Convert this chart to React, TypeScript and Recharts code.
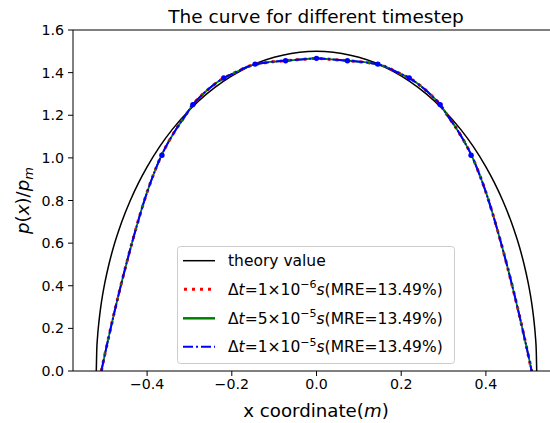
import { ComposedChart, Line, XAxis, YAxis, ReferenceLine } from "recharts";

// theory curve (semi-ellipse)
const theoryX = [
  -0.52, -0.519, -0.517, -0.514, -0.51, -0.505, -0.5, -0.49, -0.48, -0.46, -0.44, -0.42, -0.4, -0.37, -0.34,
  -0.3, -0.26, -0.22, -0.18, -0.14, -0.1, -0.06, -0.02, 0, 0.02, 0.06, 0.1, 0.14, 0.18, 0.22, 0.26, 0.3, 0.34,
  0.37, 0.4, 0.42, 0.44, 0.46, 0.48, 0.49, 0.5, 0.505, 0.51, 0.514, 0.517, 0.519, 0.52,
];
const theoryP = [
  0, 0.093, 0.161, 0.227, 0.293, 0.358, 0.412, 0.502, 0.577, 0.699, 0.799, 0.884, 0.958, 1.054, 1.135,
  1.225, 1.299, 1.359, 1.407, 1.445, 1.472, 1.49, 1.499, 1.5, 1.499, 1.49, 1.472, 1.445, 1.407, 1.359, 1.299, 1.225, 1.135,
  1.054, 0.958, 0.884, 0.799, 0.699, 0.577, 0.502, 0.412, 0.358, 0.293, 0.227, 0.161, 0.093, 0,
];

// numerical result (the three timesteps overlap)
const numX = [
  -0.508, -0.502, -0.495, -0.487, -0.478, -0.468, -0.457, -0.445, -0.432, -0.418, -0.404, -0.39, -0.378, -0.366,
  -0.348, -0.33, -0.31, -0.292, -0.273, -0.255, -0.237, -0.219, -0.2, -0.182, -0.163, -0.145, -0.127, -0.109,
  -0.091, -0.073, -0.055, -0.036, -0.018, 0, 0.018, 0.036, 0.055, 0.073, 0.091, 0.109, 0.127, 0.145, 0.163,
  0.182, 0.2, 0.219, 0.237, 0.255, 0.273, 0.292, 0.31, 0.33, 0.348, 0.366, 0.378, 0.39, 0.404, 0.418, 0.432,
  0.445, 0.457, 0.468, 0.478, 0.487, 0.495, 0.502, 0.508,
];
const numP = [
  0, 0.057, 0.121, 0.192, 0.27, 0.353, 0.441, 0.533, 0.628, 0.725, 0.815, 0.895, 0.957, 1.012,
  1.08, 1.139, 1.197, 1.25, 1.29, 1.323, 1.351, 1.375, 1.393, 1.41, 1.428, 1.438, 1.445, 1.45,
  1.453, 1.456, 1.459, 1.462, 1.465, 1.467, 1.465, 1.462, 1.459, 1.456, 1.453, 1.45, 1.445, 1.438, 1.428,
  1.41, 1.393, 1.375, 1.351, 1.323, 1.29, 1.25, 1.197, 1.139, 1.08, 1.012, 0.957, 0.895, 0.815, 0.725, 0.628,
  0.533, 0.441, 0.353, 0.27, 0.192, 0.121, 0.057, 0,
];

// blue markers
const markerX = [-0.365, -0.292, -0.219, -0.145, -0.073, 0, 0.073, 0.145, 0.219, 0.292, 0.365];
const markerP = [1.012, 1.25, 1.375, 1.44, 1.456, 1.467, 1.456, 1.44, 1.375, 1.25, 1.012];

const xTicks = [-0.4, -0.2, 0, 0.2, 0.4];
const yTicks = [0, 0.2, 0.4, 0.6, 0.8, 1.0, 1.2, 1.4, 1.6];

const theoryData = theoryX.map((x, i) => ({ x, p: theoryP[i] }));
const numData = numX.map((x, i) => ({ x, p: numP[i] }));
const markerData = markerX.map((x, i) => ({ x, p: markerP[i] }));

const FONT = "DejaVu Sans, sans-serif";
const fmt = (v: number) => (v < 0 ? "\u2212" + Math.abs(v).toFixed(1) : v.toFixed(1));

function LegendRow({ y, kind, exp, coef }: { y: number; kind: string; exp?: string; coef?: string }) {
  const line =
    kind === "theory" ? (
      <line x1={183} x2={215} y1={y} y2={y} stroke="#000" strokeWidth={1.5} />
    ) : kind === "red" ? (
      <line x1={184} x2={215} y1={y} y2={y} stroke="#ff0000" strokeWidth={3} strokeDasharray="3 5" />
    ) : kind === "green" ? (
      <line x1={183} x2={215} y1={y} y2={y} stroke="#008000" strokeWidth={2.5} />
    ) : (
      <line x1={183} x2={215} y1={y} y2={y} stroke="#0000ff" strokeWidth={2} strokeDasharray="10 3 2 3" />
    );
  return (
    <g>
      {line}
      {kind === "theory" ? (
        <text x={228} y={y + 5.5} fontSize={15.5} fontFamily={FONT} fill="#000">
          theory value
        </text>
      ) : (
        <text x={228} y={y + 5.5} fontSize={15.5} fontFamily={FONT} fill="#000">
          Δ<tspan fontStyle="italic">t</tspan>={coef}×10
          <tspan dy={-6.5} fontSize={11}>
            {exp}
          </tspan>
          <tspan dy={6.5} fontStyle="italic">
            s
          </tspan>
          (MRE=13.49%)
        </text>
      )}
    </g>
  );
}

export default function App() {
  return (
    <div style={{ position: "fixed", left: 0, top: 0, width: 550, height: 423, overflow: "hidden", background: "#fff" }}>
      <div style={{ position: "relative", width: 580, height: 423 }}>
        <ComposedChart width={580} height={423} margin={{ top: 30, right: 20, bottom: 22, left: 0 }}>
          <XAxis
            dataKey="x"
            type="number"
            domain={[-0.575, 0.575]}
            ticks={xTicks}
            tickFormatter={fmt}
            allowDataOverflow
            height={30}
            tickSize={5}
            tickMargin={3}
            axisLine={{ stroke: "#000", strokeWidth: 1 }}
            tickLine={{ stroke: "#000" }}
            tick={{ fill: "#000", fontSize: 14.2, fontFamily: FONT }}
          />
          <YAxis
            dataKey="p"
            type="number"
            domain={[0, 1.6]}
            ticks={yTicks}
            tickFormatter={(v: number) => v.toFixed(1)}
            allowDataOverflow
            width={73}
            tickSize={5}
            tickMargin={4}
            axisLine={{ stroke: "#000", strokeWidth: 1 }}
            tickLine={{ stroke: "#000" }}
            tick={{ fill: "#000", fontSize: 14.2, fontFamily: FONT }}
          />
          <ReferenceLine y={1.6} stroke="#000" strokeWidth={1} />
          <Line data={theoryData} dataKey="p" type="monotone" stroke="#000" strokeWidth={1.5} dot={false} isAnimationActive={false} />
          <Line data={numData} dataKey="p" type="monotone" stroke="#ff0000" strokeWidth={3} strokeDasharray="3 5" dot={false} isAnimationActive={false} />
          <Line data={numData} dataKey="p" type="monotone" stroke="#008000" strokeWidth={1.8} dot={false} isAnimationActive={false} />
          <Line data={numData} dataKey="p" type="monotone" stroke="#0000ff" strokeWidth={2} strokeDasharray="12 2.5 2 2.5" dot={false} isAnimationActive={false} />
          <Line
            data={markerData}
            dataKey="p"
            stroke="none"
            dot={{ r: 2.7, fill: "#0000ff", stroke: "none" }}
            isAnimationActive={false}
          />
        </ComposedChart>
        <svg width={580} height={423} style={{ position: "absolute", left: 0, top: 0, pointerEvents: "none" }}>
          <text x={316} y={22.5} textAnchor="middle" fontSize={18.5} fontFamily={FONT} fill="#000">
            The curve for different timestep
          </text>
          <text x={316} y={417} textAnchor="middle" fontSize={18.2} fontFamily={FONT} fill="#000">
            x coordinate(<tspan fontStyle="italic">m</tspan>)
          </text>
          <text x={29} y={200.5} transform="rotate(-90 29 200.5)" textAnchor="middle" fontSize={18.2} fontFamily={FONT} fill="#000">
            <tspan fontStyle="italic">p</tspan>(<tspan fontStyle="italic">x</tspan>)/<tspan fontStyle="italic">p</tspan>
            <tspan fontStyle="italic" fontSize={13} dy={4}>
              m
            </tspan>
          </text>
          <rect x={177.5} y={246.5} width={277} height={117} rx={3} fill="#fff" fillOpacity={0.8} stroke="#cccccc" strokeWidth={1} />
          <LegendRow y={260.7} kind="theory" />
          <LegendRow y={289.3} kind="red" coef="1" exp="−6" />
          <LegendRow y={318.3} kind="green" coef="5" exp="−5" />
          <LegendRow y={346.7} kind="blue" coef="1" exp="−5" />
        </svg>
      </div>
    </div>
  );
}
